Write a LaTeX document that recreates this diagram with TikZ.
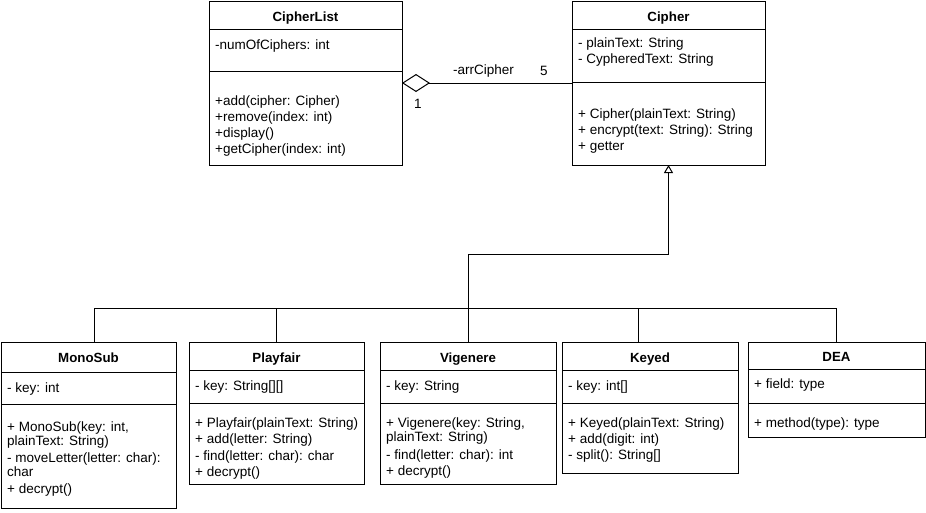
\documentclass[tikz,border=0pt]{standalone}
\usepackage{fontspec}
\setmainfont{Liberation Sans}
\usetikzlibrary{arrows.meta}

\tikzset{
        classbox/.style={draw, line width=1pt, inner sep=0pt, outer sep=0pt, anchor=north west},
        classname/.style={font=\fontsize{13.3}{16}\selectfont\bfseries, anchor=base, inner sep=0pt},
        members/.style={font=\fontsize{13.5}{16}\selectfont, align=left, anchor=north west, inner sep=0pt, execute at begin node=\strut},
        divider/.style={line width=1pt},
        link/.style={line width=1pt},
        aggregation/.style={link, {Diamond[open, length=28pt, width=18pt]}-},
        inherit/.style={link, -{Triangle[open, length=8pt, width=9pt]}},
        rolename/.style={font=\fontsize{13.5}{16}\selectfont, inner sep=0pt},
}

\begin{document}
\begin{tikzpicture}[x=1pt, y=-1pt]
        \useasboundingbox[fill=white] (0,0) rectangle (926,512);

        % top row
        \node[classbox, minimum width=193pt, minimum height=164pt] (cipherlist) at (209,1) {};
        \node[classname] (cipherlist-name) at (cipherlist.north |- 0,21) {CipherList};
        \draw[divider] (cipherlist.west |- 0,29) -- (cipherlist.east |- 0,29);
        \draw[divider] (cipherlist.west |- 0,71) -- (cipherlist.east |- 0,71);
        \node[members] (cipherlist-attr) at (215,38) {-numOfCiphers: int};
        \node[members] (cipherlist-ops) at (215,96) {+add(cipher: Cipher)\\+remove(index: int)\\+display()\\+getCipher(index: int)};

        \node[classbox, minimum width=193pt, minimum height=164pt] (cipher) at (572,1) {};
        \node[classname] (cipher-name) at (cipher.north |- 0,21) {Cipher};
        \draw[divider] (cipher.west |- 0,29) -- (cipher.east |- 0,29);
        \draw[divider] (cipher.west |- 0,82) -- (cipher.east |- 0,82);
        \node[members] (cipher-attr) at (578,38) {- plainText: String\\- CypheredText: String};
        \node[members] (cipher-ops) at (578,108.5) {+ Cipher(plainText: String)\\+ encrypt(text: String): String\\+ getter};

        % subclasses
        \node[classbox, minimum width=175pt, minimum height=166pt] (monosub) at (1,342) {};
        \node[classname] (monosub-name) at (monosub.north |- 0,362) {MonoSub};
        \draw[divider] (monosub.west |- 0,372) -- (monosub.east |- 0,372);
        \draw[divider] (monosub.west |- 0,404) -- (monosub.east |- 0,404);
        \node[members] (monosub-attr) at (7,381.5) {- key: int};
        \node[members] (monosub-ops) at (7,422) {+ MonoSub(key: int,\\[-2.5pt]plainText: String)\\[1.5pt]- moveLetter(letter: char):\\[-2.5pt]char\\[1.5pt]+ decrypt()};

        \node[classbox, minimum width=175pt, minimum height=142pt] (playfair) at (189,342) {};
        \node[classname] (playfair-name) at (playfair.north |- 0,362) {Playfair};
        \draw[divider] (playfair.west |- 0,370) -- (playfair.east |- 0,370);
        \draw[divider] (playfair.west |- 0,403) -- (playfair.east |- 0,403);
        \node[members] (playfair-attr) at (195,379.5) {- key: String[][]};
        \node[members] (playfair-ops) at (195,417.3) {+ Playfair(plainText: String)\\+ add(letter: String)\\[1pt]- find(letter: char): char\\+ decrypt()};

        \node[classbox, minimum width=176pt, minimum height=142pt] (vigenere) at (380,342) {};
        \node[classname] (vigenere-name) at (vigenere.north |- 0,362) {Vigenere};
        \draw[divider] (vigenere.west |- 0,370) -- (vigenere.east |- 0,370);
        \draw[divider] (vigenere.west |- 0,403) -- (vigenere.east |- 0,403);
        \node[members] (vigenere-attr) at (386,379.5) {- key: String};
        \node[members] (vigenere-ops) at (386,418) {+ Vigenere(key: String,\\[-2pt]plainText: String)\\[1.5pt]- find(letter: char): int\\+ decrypt()};

        \node[classbox, minimum width=176pt, minimum height=131pt] (keyed) at (562,342) {};
        \node[classname] (keyed-name) at (keyed.north |- 0,362) {Keyed};
        \draw[divider] (keyed.west |- 0,370) -- (keyed.east |- 0,370);
        \draw[divider] (keyed.west |- 0,403) -- (keyed.east |- 0,403);
        \node[members] (keyed-attr) at (568,379.5) {- key: int[]};
        \node[members] (keyed-ops) at (568,417.3) {+ Keyed(plainText: String)\\+ add(digit: int)\\- split(): String[]};

        \node[classbox, minimum width=177pt, minimum height=95pt] (dea) at (748,342) {};
        \node[classname] (dea-name) at (dea.north |- 0,361) {DEA};
        \draw[divider] (dea.west |- 0,369) -- (dea.east |- 0,369);
        \draw[divider] (dea.west |- 0,403) -- (dea.east |- 0,403);
        \node[members] (dea-attr) at (754,377.5) {+ field: type};
        \node[members] (dea-ops) at (754,416) {+ method(type): type};

        % connectors
        \draw[aggregation] (cipherlist.east) -- node[rolename, pos=0.48, yshift=12pt] (role) {-arrCipher}
                node[rolename, pos=0.835, yshift=12pt] (many) {5}
                node[rolename, pos=0.094, yshift=-21pt] (one) {1} (cipher.west);

        \coordinate (elbow) at (vigenere.north |- 0,254);
        \draw[inherit] (vigenere.north) -- (elbow) -| (cipher.south);

        \coordinate (busL) at (94,308);
        \coordinate (busR) at (dea.north |- 0,308);
        \coordinate (keyedtap) at (638,308);
        \draw[link] (busL) -- (busR);
        \draw[link] (busL) -- (busL |- monosub.north);
        \draw[link] (playfair.north |- busL) -- (playfair.north);
        \draw[link] (keyedtap) -- (keyedtap |- keyed.north);
        \draw[link] (busR) -- (dea.north);
\end{tikzpicture}
\end{document}
